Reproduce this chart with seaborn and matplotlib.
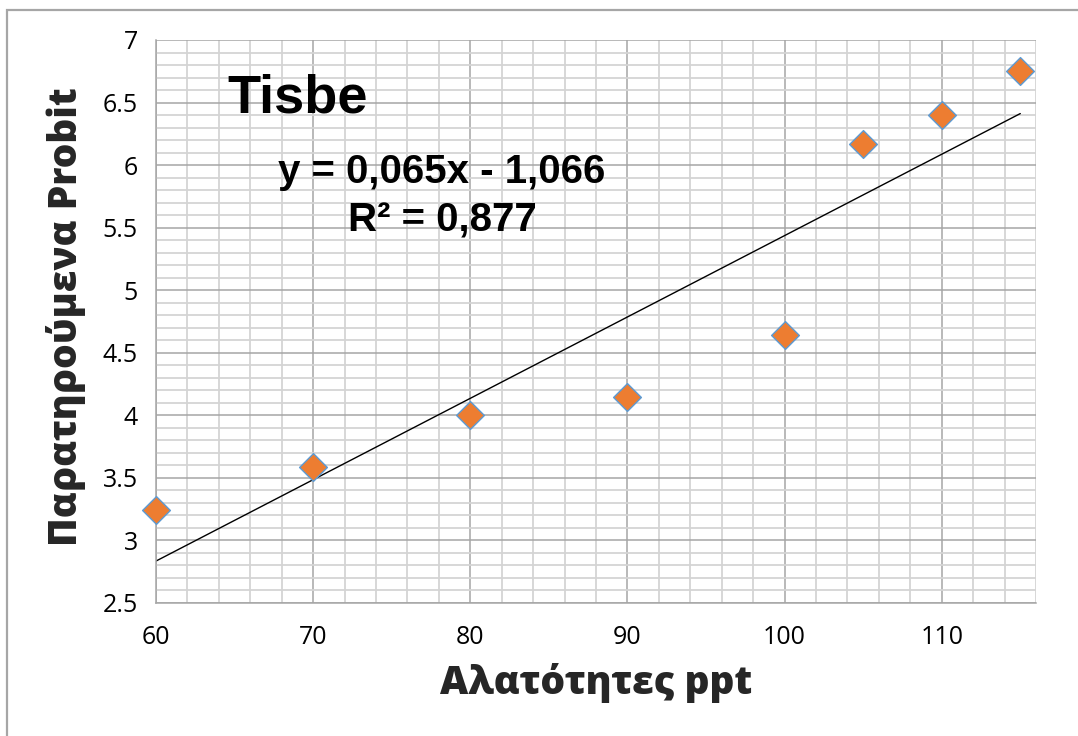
import numpy as np
import pandas as pd
import matplotlib
matplotlib.use("Agg")
import matplotlib.pyplot as plt
from matplotlib.ticker import MultipleLocator
from matplotlib.patches import Rectangle
import seaborn as sns

# ---- data ----
salinity = [60, 70, 80, 90, 100, 105, 110, 115]
probit = [3.24, 3.59, 4.00, 4.15, 4.64, 6.17, 6.40, 6.75]
x_label = "Αλατότητες ppt"
y_label = "Παρατηρούμενα Probit"
title_text = "Tisbe"
eq_text = "y = 0,065x - 1,066"
r2_text = "R² = 0,877"
x_ticks = [60, 70, 80, 90, 100, 110]
y_ticks = [2.5, 3, 3.5, 4, 4.5, 5, 5.5, 6, 6.5, 7]

df = pd.DataFrame({"x": salinity, "y": probit})

sns.set_theme(style="white")
plt.rcParams['font.family'] = ['Open Sans', 'DejaVu Sans']

W, H = 1078, 736
fig = plt.figure(figsize=(W / 100, H / 100), dpi=100)
ax = fig.add_axes([156 / W, 1 - 603 / H, (1036 - 156) / W, (603 - 40) / H])

# grid
ax.set_xlim(60, 116)
ax.set_ylim(2.5, 7)
ax.xaxis.set_major_locator(MultipleLocator(10))
ax.xaxis.set_minor_locator(MultipleLocator(2))
ax.yaxis.set_major_locator(MultipleLocator(0.5))
ax.yaxis.set_minor_locator(MultipleLocator(0.1))
ax.grid(which="minor", color="#d4d4d4", linewidth=1.3, zorder=0)
ax.grid(which="major", color="#a6a6a6", linewidth=1.1, zorder=0)
ax.set_axisbelow(True)

# trend line
sns.regplot(data=df, x="x", y="y", ci=None, scatter=False, ax=ax,
            line_kws=dict(color="black", linewidth=1.0, zorder=2))
# points
sns.scatterplot(data=df, x="x", y="y", marker="D", s=200, color="#ED7D31",
                edgecolor="#5B9BD5", linewidth=1.0, ax=ax, zorder=3, clip_on=False)

ax.set_xticks(x_ticks)
ax.set_yticks(y_ticks)
ax.set_yticklabels([f"{v:g}" for v in y_ticks], fontsize=18)
ax.set_xticklabels([f"{v:g}" for v in x_ticks], fontsize=18)
ax.tick_params(which="major", direction="out", length=9, width=1, color="#a6a6a6",
               labelcolor="black")
ax.tick_params(which="minor", length=0)
ax.tick_params(axis="x", pad=7)
ax.tick_params(axis="y", pad=4)

for side in ["top", "right"]:
    ax.spines[side].set_visible(False)
for side in ["left", "bottom"]:
    ax.spines[side].set_color("#a6a6a6")
    ax.spines[side].set_linewidth(1.1)

ax.set_xlabel(x_label, fontsize=28, fontweight=800)
ax.set_ylabel(y_label, fontsize=28, fontweight=800)
ax.xaxis.set_label_coords((596 - 156) / 880, -(663 - 603) / 563)
ax.yaxis.set_label_coords(-(156 - 86) / 880, (603 - 317) / 563)

ax.text(69.0, 6.42, title_text, fontsize=39, fontweight="bold",
        family=['Liberation Sans', 'DejaVu Sans'], ha="center", va="baseline", color="black")
ax.text(78.2, 5.945, eq_text, fontsize=29, fontweight="bold",
        family=['Liberation Sans', 'DejaVu Sans'], ha="center", va="center", color="black")
ax.text(78.2, 5.56, r2_text, fontsize=29, fontweight="bold",
        family=['Liberation Sans', 'DejaVu Sans'], ha="center", va="center", color="black")

# outer chart border
fig.patches.append(Rectangle((7 / W, -0.1), 1.2, 1 - 10 / H + 0.1, transform=fig.transFigure,
                             fill=False, edgecolor="#a6a6a6", linewidth=1.6))

fig.savefig("out.png", dpi=100, facecolor="white")
